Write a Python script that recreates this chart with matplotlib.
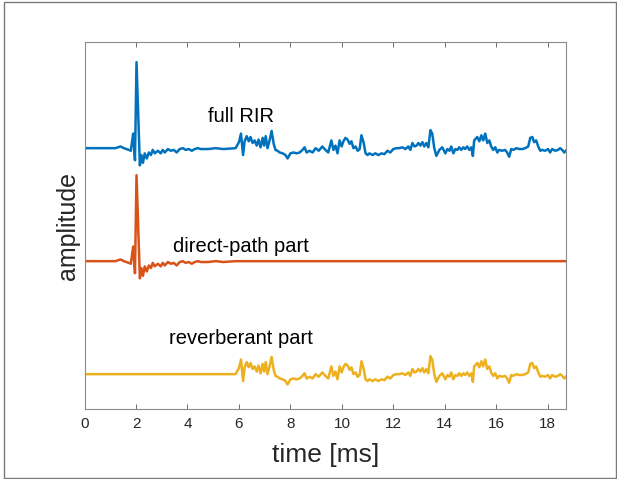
import numpy as np
import matplotlib
matplotlib.use("Agg")
import matplotlib.pyplot as plt
from matplotlib.patches import Rectangle

plt.rcParams['font.family'] = ['Liberation Sans', 'DejaVu Sans']

# time axis [ms] and full room impulse response (normalised amplitude)
time_ms = [0, 1.2, 1.4, 1.53, 1.72, 1.8, 1.89, 1.96, 2.02, 2.15, 2.21, 2.27, 2.34, 2.42, 2.5,
           2.58, 2.65, 2.73, 2.85, 2.96, 3.04, 3.12, 3.24, 3.35, 3.47, 3.58, 3.7, 3.82, 3.93,
           4.05, 4.17, 4.28, 4.4, 4.52, 4.8, 5.1, 5.4, 5.87, 6.0, 6.08, 6.16, 6.22, 6.3, 6.38,
           6.45, 6.53, 6.61, 6.69, 6.76, 6.84, 6.92, 6.98, 7.04, 7.11, 7.19, 7.27, 7.35, 7.42,
           7.5, 7.58, 7.7, 7.81, 7.89, 8.0, 8.12, 8.24, 8.36, 8.47, 8.55, 8.63, 8.74, 8.86,
           8.98, 9.1, 9.24, 9.36, 9.47, 9.59, 9.67, 9.75, 9.83, 9.91, 9.99, 10.06, 10.14,
           10.22, 10.3, 10.37, 10.45, 10.53, 10.61, 10.69, 10.76, 10.84, 10.92, 11.0, 11.07,
           11.19, 11.3, 11.42, 11.54, 11.65, 11.77, 11.88, 12.0, 12.12, 12.23, 12.35, 12.47,
           12.58, 12.66, 12.74, 12.82, 12.9, 12.97, 13.05, 13.13, 13.2, 13.28, 13.36, 13.44,
           13.51, 13.59, 13.67, 13.79, 13.9, 14.02, 14.1, 14.18, 14.25, 14.33, 14.41, 14.49,
           14.56, 14.64, 14.72, 14.79, 14.87, 14.95, 15.03, 15.09, 15.14, 15.26, 15.34, 15.42,
           15.49, 15.57, 15.65, 15.73, 15.8, 15.88, 15.96, 16.04, 16.11, 16.23, 16.34, 16.42,
           16.5, 16.58, 16.66, 16.78, 16.89, 17.01, 17.12, 17.24, 17.32, 17.4, 17.47, 17.55,
           17.63, 17.71, 17.78, 17.9, 18.01, 18.09, 18.17, 18.29, 18.4, 18.48, 18.56, 18.64,
           18.7]
full_rir = [0, 0, 0.02, 0, -0.02, -0.03, 0.17, -0.14, 1.0, -0.20, -0.08, -0.17, -0.06, -0.12,
            -0.05, -0.08, -0.02, -0.06, -0.03, -0.06, -0.02, -0.05, -0.01, -0.03, -0.02, -0.05,
            -0.01, 0, -0.02, -0.01, -0.03, -0.01, 0, -0.01, -0.01, 0, -0.01, 0, 0.07, 0.17,
            -0.08, 0.08, 0.14, 0.08, 0.13, 0.06, 0.09, 0.03, 0.10, 0.01, 0.12, 0.03, 0.14, 0,
            0.09, 0.20, 0.05, -0.02, -0.03, -0.05, -0.06, -0.08, -0.12, -0.06, -0.05, -0.06,
            -0.05, -0.02, 0.01, -0.05, -0.03, -0.05, 0, -0.03, 0.02, -0.02, -0.05, 0.09, -0.02,
            0.03, -0.06, 0.09, 0.02, 0.08, 0.12, 0.10, 0.05, 0.08, 0, 0.02, -0.03, -0.01, 0.15,
            0.07, -0.06, -0.08, -0.06, -0.08, -0.06, -0.08, -0.06, -0.07, -0.03, -0.05, -0.01,
            0, 0, 0.01, -0.01, 0.02, -0.02, 0.06, 0.02, 0.03, 0.06, 0.03, 0.07, 0.02, 0.06,
            0.01, 0.21, 0.17, 0, -0.09, -0.02, 0.01, -0.06, -0.01, -0.03, 0.02, -0.06, -0.01,
            -0.02, 0.01, -0.02, 0.01, -0.01, 0.02, -0.02, 0.01, -0.09, 0.09, 0.13, 0.08, 0.15,
            0.09, 0.17, 0.06, 0.09, 0.02, -0.02, 0.01, -0.05, -0.02, -0.03, -0.02, -0.05, -0.10,
            -0.01, -0.02, 0, -0.01, -0.01, 0, 0.02, 0.12, 0.13, 0.07, 0.09, 0.02, -0.03, -0.02,
            -0.03, -0.01, -0.05, -0.01, -0.03, -0.02, 0, -0.02, -0.05, -0.03]
split_ms = 5.95          # boundary between direct-path and reverberant part
trace_offsets = [1.314, 0.0, -1.314]
labels = ["full RIR", "direct-path part", "reverberant part"]
colors = ["#0072BD", "#D95319", "#EDB120"]
xticks = [0, 2, 4, 6, 8, 10, 12, 14, 16, 18]

t = np.array(time_ms)
h = np.array(full_rir)
direct = np.where(t < split_ms, h, 0.0)
reverb = np.where(t >= split_ms, h, 0.0)
signals = [h, direct, reverb]

fig = plt.figure(figsize=(6.17, 4.79), dpi=100)
ax = fig.add_axes([0.137, 0.146, 0.78, 0.766])

for sig, off, col in zip(signals, trace_offsets, colors):
    ax.plot(t, sig + off, color=col, lw=1.8, solid_joinstyle='round')

label_y = [1.616, 0.105, -0.965]
for lab, ly in zip(labels, label_y):
    ax.text(6.07, ly, lab, ha='center', va='baseline', fontsize=14.5, color='black')

ax.set_xlim(0, 18.7)
ax.set_ylim(-1.72, 2.547)
ax.set_xticks(xticks)
ax.set_xticklabels([str(v) for v in xticks])
ax.set_yticks([])
ax.tick_params(axis='x', direction='in', length=3.5, width=0.6, color='#555555',
               top=True, labelsize=11, labelcolor='#262626', pad=6)
for sp in ax.spines.values():
    sp.set_color('#8c8c8c')
    sp.set_linewidth(0.8)
ax.set_xlabel("time [ms]", fontsize=19, color='#262626', labelpad=8)
ax.set_ylabel("amplitude", fontsize=18, color='#262626', labelpad=3)

fig.patches.append(Rectangle((3.5 / 617, 1.5 / 479), 612 / 617, 476 / 479,
                             transform=fig.transFigure, fill=False,
                             edgecolor='#7a7a7a', lw=1.0))

fig.savefig("out.png", dpi=100)
